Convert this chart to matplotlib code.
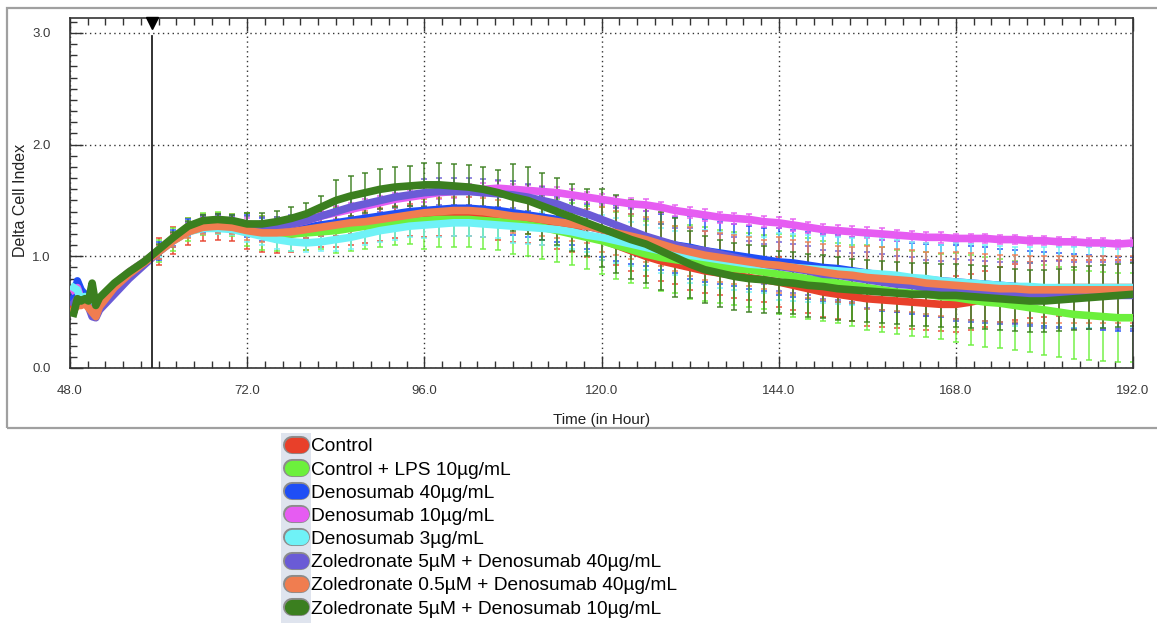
import numpy as np
import matplotlib.pyplot as plt
import matplotlib.ticker as ticker
import matplotlib.patheffects as pe
from matplotlib.lines import Line2D
from matplotlib.patches import Rectangle

plt.rcParams['font.family'] = ['Liberation Sans', 'DejaVu Sans']

# time axis (hours)
hours = np.concatenate([[48.5, 49.0, 49.5, 50.0, 50.5, 51.0, 51.5], np.arange(52, 193, 2)])

labels = [
    "Control",
    "Control + LPS 10µg/mL",
    "Denosumab 40µg/mL",
    "Denosumab 10µg/mL",
    "Denosumab 3µg/mL",
    "Zoledronate 5µM + Denosumab 40µg/mL",
    "Zoledronate 0.5µM + Denosumab 40µg/mL",
    "Zoledronate 5µM + Denosumab 10µg/mL",
]
colors = ["#e8402a", "#6cf03c", "#1f4ef5", "#e65cf2",
          "#6ff2f7", "#6a5bd6", "#f07d50", "#3b7f1f"]

# mean delta cell index, 48.5-58 h then every 2 h from 60 to 192
control = [0.55, 0.58, 0.60, 0.62, 0.66, 0.70, 0.52, 0.60, 0.74, 0.85, 0.94,
           1.04, 1.14, 1.22, 1.26, 1.27, 1.26,
           1.23, 1.20, 1.19, 1.20, 1.22, 1.24,
           1.26, 1.28, 1.30, 1.32, 1.34, 1.36,
           1.37, 1.38, 1.38, 1.38, 1.37, 1.35,
           1.33, 1.32, 1.30, 1.27, 1.24, 1.19,
           1.15, 1.10, 1.05, 1.00, 0.96, 0.93,
           0.90, 0.87, 0.85, 0.83, 0.81, 0.79,
           0.77, 0.74, 0.71, 0.68, 0.66, 0.64,
           0.62, 0.61, 0.60, 0.59, 0.58, 0.57,
           0.57, 0.59, 0.62, 0.65, 0.68, 0.70,
           0.71, 0.72, 0.72, 0.72, 0.72, 0.72, 0.72]
lps = [0.60, 0.64, 0.62, 0.62, 0.60, 0.58, 0.54, 0.62, 0.75, 0.86, 0.95,
       1.05, 1.15, 1.24, 1.29, 1.30, 1.28,
       1.24, 1.21, 1.20, 1.20, 1.21, 1.22,
       1.23, 1.25, 1.27, 1.28, 1.30, 1.31,
       1.32, 1.33, 1.33, 1.33, 1.32, 1.31,
       1.30, 1.28, 1.26, 1.23, 1.20, 1.17,
       1.14, 1.10, 1.06, 1.02, 0.99, 0.97,
       0.95, 0.93, 0.91, 0.89, 0.88, 0.86,
       0.84, 0.82, 0.80, 0.78, 0.76, 0.74,
       0.72, 0.70, 0.68, 0.67, 0.66, 0.64,
       0.63, 0.61, 0.59, 0.58, 0.56, 0.54,
       0.52, 0.50, 0.48, 0.47, 0.46, 0.45, 0.45]
deno40 = [0.62, 0.78, 0.70, 0.66, 0.60, 0.55, 0.52, 0.60, 0.74, 0.85, 0.94,
          1.05, 1.16, 1.25, 1.29, 1.30, 1.29,
          1.27, 1.24, 1.23, 1.24, 1.26, 1.28,
          1.30, 1.32, 1.34, 1.36, 1.38, 1.40,
          1.41, 1.42, 1.43, 1.43, 1.42, 1.41,
          1.39, 1.37, 1.35, 1.33, 1.30, 1.27,
          1.24, 1.21, 1.18, 1.16, 1.13, 1.10,
          1.08, 1.05, 1.03, 1.01, 0.99, 0.97,
          0.95, 0.94, 0.92, 0.90, 0.89, 0.87,
          0.85, 0.83, 0.82, 0.80, 0.79, 0.78,
          0.77, 0.76, 0.75, 0.74, 0.73, 0.72,
          0.71, 0.70, 0.69, 0.68, 0.67, 0.66, 0.66]
deno10 = [0.70, 0.72, 0.62, 0.62, 0.64, 0.60, 0.55, 0.62, 0.75, 0.86, 0.95,
          1.05, 1.16, 1.26, 1.31, 1.32, 1.31,
          1.29, 1.27, 1.27, 1.29, 1.32, 1.36,
          1.39, 1.42, 1.45, 1.48, 1.51, 1.53,
          1.55, 1.57, 1.58, 1.59, 1.60, 1.61,
          1.60, 1.59, 1.58, 1.57, 1.55, 1.53,
          1.51, 1.49, 1.47, 1.46, 1.44, 1.41,
          1.39, 1.37, 1.35, 1.34, 1.33, 1.31,
          1.30, 1.28, 1.26, 1.24, 1.23, 1.22,
          1.21, 1.20, 1.19, 1.18, 1.17, 1.17,
          1.16, 1.16, 1.16, 1.15, 1.15, 1.14,
          1.14, 1.13, 1.13, 1.12, 1.12, 1.11, 1.12]
deno3 = [0.72, 0.70, 0.60, 0.64, 0.58, 0.52, 0.50, 0.58, 0.72, 0.84, 0.94,
         1.04, 1.14, 1.22, 1.25, 1.25, 1.24,
         1.21, 1.18, 1.15, 1.13, 1.12, 1.13,
         1.15, 1.17, 1.20, 1.23, 1.25, 1.27,
         1.28, 1.29, 1.30, 1.30, 1.29, 1.28,
         1.27, 1.26, 1.25, 1.24, 1.22, 1.19,
         1.17, 1.14, 1.11, 1.08, 1.05, 1.03,
         1.01, 0.99, 0.97, 0.95, 0.93, 0.92,
         0.91, 0.90, 0.89, 0.88, 0.87, 0.86,
         0.85, 0.84, 0.83, 0.81, 0.80, 0.78,
         0.77, 0.76, 0.75, 0.74, 0.73, 0.73,
         0.72, 0.72, 0.72, 0.72, 0.72, 0.72, 0.72]
zol5_deno40 = [0.58, 0.62, 0.58, 0.60, 0.55, 0.46, 0.45, 0.52, 0.66, 0.80, 0.92,
               1.04, 1.15, 1.25, 1.30, 1.31, 1.30,
               1.28, 1.27, 1.27, 1.29, 1.32, 1.36,
               1.40, 1.44, 1.47, 1.50, 1.53, 1.55,
               1.57, 1.58, 1.58, 1.58, 1.57, 1.56,
               1.55, 1.53, 1.50, 1.47, 1.42, 1.38,
               1.33, 1.28, 1.23, 1.18, 1.14, 1.10,
               1.07, 1.05, 1.02, 0.99, 0.96, 0.93,
               0.91, 0.89, 0.87, 0.84, 0.83, 0.81,
               0.79, 0.77, 0.75, 0.74, 0.72, 0.71,
               0.70, 0.69, 0.68, 0.67, 0.67, 0.66,
               0.66, 0.66, 0.65, 0.65, 0.65, 0.65, 0.65]
zol05_deno40 = [0.52, 0.56, 0.56, 0.58, 0.54, 0.50, 0.46, 0.55, 0.72, 0.84, 0.94,
                1.04, 1.14, 1.22, 1.26, 1.27, 1.26,
                1.23, 1.21, 1.21, 1.22, 1.24, 1.26,
                1.28, 1.30, 1.31, 1.33, 1.35, 1.37,
                1.39, 1.40, 1.41, 1.41, 1.40, 1.38,
                1.36, 1.35, 1.33, 1.31, 1.29, 1.27,
                1.24, 1.21, 1.18, 1.15, 1.11, 1.07,
                1.04, 1.01, 0.99, 0.97, 0.95, 0.93,
                0.92, 0.90, 0.88, 0.86, 0.84, 0.83,
                0.81, 0.80, 0.79, 0.78, 0.76, 0.75,
                0.74, 0.73, 0.72, 0.71, 0.71, 0.70,
                0.70, 0.70, 0.70, 0.70, 0.70, 0.70, 0.70]
zol5_deno10 = [0.49, 0.62, 0.60, 0.62, 0.60, 0.76, 0.56, 0.63, 0.76, 0.86, 0.95,
               1.06, 1.17, 1.27, 1.32, 1.33, 1.32,
               1.29, 1.29, 1.31, 1.34, 1.38, 1.44,
               1.50, 1.54, 1.57, 1.60, 1.62, 1.63,
               1.64, 1.64, 1.63, 1.62, 1.60, 1.57,
               1.53, 1.50, 1.45, 1.40, 1.35, 1.30,
               1.25, 1.20, 1.15, 1.11, 1.05, 0.99,
               0.93, 0.88, 0.85, 0.82, 0.80, 0.79,
               0.77, 0.76, 0.74, 0.73, 0.71, 0.70,
               0.69, 0.68, 0.67, 0.66, 0.66, 0.65,
               0.65, 0.64, 0.63, 0.62, 0.61, 0.60,
               0.60, 0.61, 0.62, 0.63, 0.64, 0.65, 0.66]

# standard deviation per 12 h block (48-60, 60-72, ..., 180-192)
sd_control = [0.05, 0.12, 0.16, 0.18, 0.20, 0.20, 0.18, 0.20, 0.22, 0.24, 0.25, 0.25]
sd_lps = [0.05, 0.10, 0.15, 0.20, 0.25, 0.28, 0.30, 0.33, 0.36, 0.38, 0.40, 0.40]
sd_deno40 = [0.05, 0.08, 0.10, 0.12, 0.15, 0.20, 0.25, 0.28, 0.30, 0.32, 0.33, 0.33]
sd_deno10 = [0.04, 0.04, 0.05, 0.06, 0.06, 0.05, 0.05, 0.05, 0.05, 0.05, 0.04, 0.04]
sd_deno3 = [0.05, 0.05, 0.08, 0.10, 0.12, 0.15, 0.20, 0.25, 0.30, 0.32, 0.35, 0.36]
sd_zol5_deno40 = [0.05, 0.06, 0.08, 0.10, 0.12, 0.12, 0.15, 0.18, 0.22, 0.25, 0.28, 0.30]
sd_zol05_deno40 = [0.05, 0.06, 0.08, 0.10, 0.12, 0.15, 0.20, 0.22, 0.25, 0.28, 0.30, 0.30]
sd_zol5_deno10 = [0.05, 0.05, 0.10, 0.18, 0.20, 0.30, 0.35, 0.30, 0.28, 0.28, 0.28, 0.28]

series = [control, lps, deno40, deno10, deno3, zol5_deno40, zol05_deno40, zol5_deno10]
sds = [sd_control, sd_lps, sd_deno40, sd_deno10, sd_deno3,
       sd_zol5_deno40, sd_zol05_deno40, sd_zol5_deno10]

block = np.minimum(((hours - 48) // 12).astype(int), 11)

# ── figure ────────────────────────────────────────────────────────────────
W, H = 1157, 623
fig = plt.figure(figsize=(W / 100, H / 100), dpi=100)
fig.patches.append(Rectangle((7 / W, 1 - 428 / H), 1160 / W, 420 / H, transform=fig.transFigure,
                             fill=False, ec="#a0a0a0", lw=1.6))
fig.patches.append(Rectangle((281 / W, 0), 30 / W, (H - 433) / H, transform=fig.transFigure,
                             fc="#dfe4ee", ec="none"))

ax = fig.add_axes([70 / W, 1 - 368 / H, 1063 / W, 350 / H])

# error bars first, mean curves on top
for vals, sd, c in zip(series, sds, colors):
    err = np.asarray(sd)[block]
    ax.errorbar(hours[11:], np.asarray(vals)[11:], yerr=err[11:], fmt="none", ecolor=c,
                elinewidth=1.2, capsize=2.5, capthick=1.2, alpha=0.85, zorder=2)
for vals, c in zip(series, colors):
    ax.plot(hours, vals, color=c, lw=5.5, solid_joinstyle="round", zorder=3)

# treatment marker
ax.plot([59.15, 59.15], [0, 2.97], color="#222222", lw=1.3, zorder=4)
ax.plot(59.15, 3.09, marker="v", color="black", ms=8, zorder=5, clip_on=False)

ax.set_xlim(48, 192)
ax.set_ylim(0, 3.134)
ax.xaxis.set_major_locator(ticker.MultipleLocator(24))
ax.xaxis.set_minor_locator(ticker.MultipleLocator(2.4))
ax.yaxis.set_major_locator(ticker.MultipleLocator(1.0))
ax.yaxis.set_minor_locator(ticker.MultipleLocator(0.1))
ax.xaxis.set_major_formatter(ticker.FormatStrFormatter("%.1f"))
ax.yaxis.set_major_formatter(ticker.FormatStrFormatter("%.1f"))
ax.tick_params(which="both", direction="in", top=True, right=False, width=1, color="#333333")
ax.tick_params(which="major", length=9, labelsize=9.5, labelcolor="#3a3a3a")
ax.tick_params(which="minor", length=5)
ax.tick_params(axis="x", pad=12)
ax.tick_params(axis="y", pad=14)
for s in ax.spines.values():
    s.set_color("#333333")
    s.set_linewidth(1.2)

ax.grid(which="major", linestyle=(0, (1, 2.5)), color="#333333", lw=1, zorder=1)

ax.set_xlabel("Time (in Hour)", fontsize=11, color="#222222")
ax.set_ylabel("Delta Cell Index", fontsize=11.5, color="#222222")
ax.xaxis.set_label_coords(0.5, -(413 - 368) / 350)
ax.yaxis.set_label_coords(-(70 - 28) / 1063, (368 - 200) / 350)

handles = [Line2D([], [], color=c, lw=11, solid_capstyle="round",
                  path_effects=[pe.Stroke(linewidth=13, foreground="#8c8c8c"), pe.Normal()])
           for c in colors]
fig.legend(handles, labels, loc="upper left", bbox_to_anchor=(292 / W, 1 - 438 / H),
           bbox_transform=fig.transFigure, frameon=False, fontsize=13.8,
           handlelength=0.45, handletextpad=0.55, labelspacing=0.3, borderpad=0, borderaxespad=0)

fig.savefig("out.png", dpi=100)
